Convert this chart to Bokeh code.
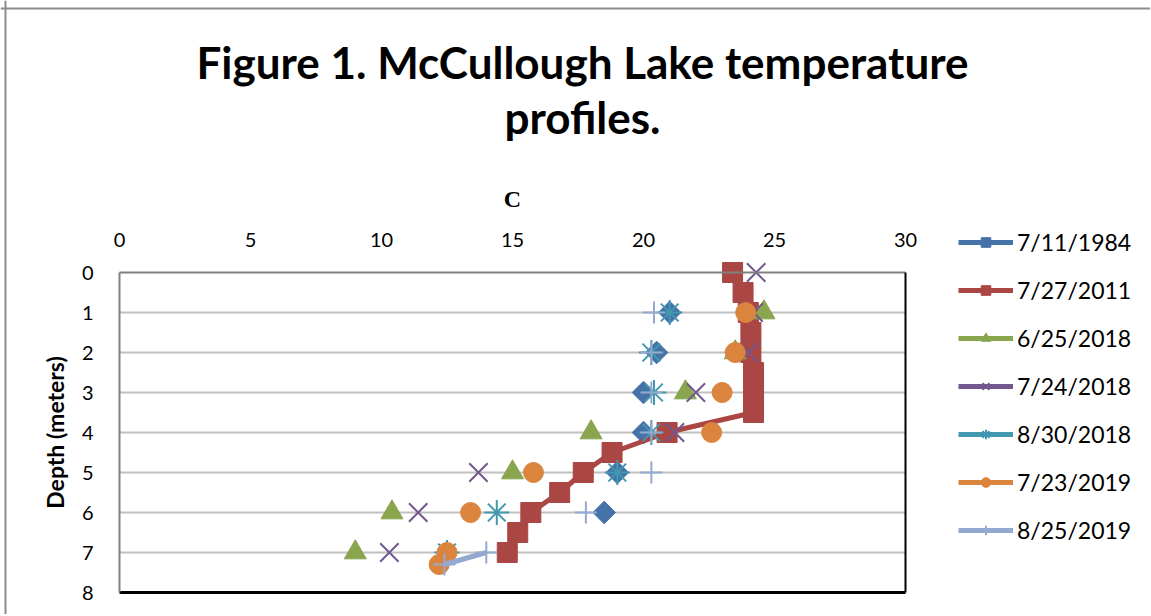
import math
from bokeh.plotting import figure
from bokeh.models import (Range1d, FixedTicker, Legend, LegendItem, Label, Span,
                          LinearAxis)
from bokeh.embed import file_html
from bokeh.resources import INLINE

nan = float("nan")

# Depth rows (meters); blank cells are NaN, which breaks the lines
depth = [0, 0.5, 1, 1.5, 2, 2.5, 3, 3.5, 4, 4.5, 5, 5.5, 6, 6.5, 7, 7.3]

series_names = ["7/11/1984", "7/27/2011", "6/25/2018", "7/24/2018",
                "8/30/2018", "7/23/2019", "8/25/2019"]

t_1984 = [nan, nan, 21.0, nan, 20.5, nan, 20.0, nan, 20.0, nan, 19.0, nan, 18.5, nan, nan, nan]
t_2011 = [23.4, 23.8, 24.0, 24.1, 24.1, 24.2, 24.2, 24.2, 20.9, 18.8, 17.7, 16.8, 15.7, 15.2, 14.8, nan]
t_0625_18 = [nan, nan, 24.6, nan, 23.5, nan, 21.6, nan, 18.0, nan, 15.0, nan, 10.4, nan, 9.0, nan]
t_0724_18 = [24.3, nan, 24.2, nan, 24.0, nan, 22.0, nan, 21.2, nan, 13.7, nan, 11.4, nan, 10.3, nan]
t_0830_18 = [nan, nan, 21.0, nan, 20.3, nan, 20.4, nan, 20.3, nan, 19.0, nan, 14.4, nan, 12.5, nan]
t_0723_19 = [nan, nan, 23.9, nan, 23.5, nan, 23.0, nan, 22.6, nan, 15.8, nan, 13.4, nan, 12.5, 12.2]
t_0825_19 = [nan, nan, 20.4, nan, 20.3, nan, 20.3, nan, 20.3, nan, 20.3, nan, 17.8, nan, 14.0, 12.4]

x_ticks = [0, 5, 10, 15, 20, 25, 30]
y_ticks = [0, 1, 2, 3, 4, 5, 6, 7, 8]

all_series = [t_1984, t_2011, t_0625_18, t_0724_18, t_0830_18, t_0723_19, t_0825_19]
colors = ["#4572A7", "#AA4643", "#89A54E", "#71588F", "#4198AF", "#DB843D", "#93A9CF"]
markers = ["square", "square", "triangle", "x", "asterisk", "circle", "cross"]
angles = [math.pi / 4, 0, 0, 0, 0, 0, 0]
sizes = [16, 20, 22, 26, 25, 20, 22]

# ---- layout: the frame covers the whole canvas; the plot area (0..30 C,
# 0..8 m) sits at pixels x 119..905, y 272..592
W, H = 1150, 614
PX_L, PX_R, PX_T, PX_B = 119, 905, 272, 592
XMIN, XMAX = x_ticks[0], x_ticks[-1]
YMIN, YMAX = y_ticks[0], y_ticks[-1]
sx = (PX_R - PX_L) / (XMAX - XMIN)
sy = (PX_B - PX_T) / (YMAX - YMIN)
x_range = Range1d(XMIN - PX_L / sx, XMAX + (W - PX_R) / sx)
y_range = Range1d(YMAX + (H - PX_B) / sy, YMIN - PX_T / sy)

p = figure(width=W, height=H, output_backend="svg", toolbar_location=None,
           x_range=x_range, y_range=y_range,
           x_axis_location="above",
           min_border=0, min_border_left=0, min_border_right=0,
           min_border_top=0, min_border_bottom=0)

p.background_fill_color = "white"
p.border_fill_color = "white"
p.outline_line_color = None
p.xgrid.grid_line_color = None
p.ygrid.grid_line_color = None

# horizontal gridlines inside the plot area
grid_depths = y_ticks[1:-1]
p.segment(x0=[XMIN] * len(grid_depths), y0=grid_depths,
          x1=[XMAX] * len(grid_depths), y1=grid_depths,
          line_color="#C0C0C0", line_width=2)

xa = p.xaxis[0]
xa.fixed_location = YMIN
xa.bounds = (XMIN, XMAX)
xa.ticker = FixedTicker(ticks=x_ticks)
xa.axis_line_color = "#808080"
xa.axis_line_width = 2
xa.major_tick_line_color = None
xa.minor_tick_line_color = None
xa.major_tick_out = 0
xa.major_label_standoff = 26
xa.major_label_text_font = "Lato"
xa.major_label_text_font_size = "20px"
xa.major_label_text_color = "black"
xa.axis_label = "C"
xa.axis_label_text_font = "Liberation Serif"
xa.axis_label_text_font_style = "bold"
xa.axis_label_text_font_size = "24px"
xa.axis_label_text_color = "black"
xa.axis_label_standoff = 18

ya = p.yaxis[0]
ya.fixed_location = XMIN
ya.bounds = (YMIN, YMAX)
ya.ticker = FixedTicker(ticks=y_ticks)
ya.axis_line_color = "#808080"
ya.axis_line_width = 2
ya.major_tick_line_color = None
ya.minor_tick_line_color = None
ya.major_tick_out = 0
ya.major_label_standoff = 26
ya.major_label_text_font = "Lato"
ya.major_label_text_font_size = "20px"
ya.major_label_text_color = "black"
ya.axis_label = "Depth (meters)"
ya.axis_label_text_font = "Lato"
ya.axis_label_text_font_style = "bold"
ya.axis_label_text_font_size = "23px"
ya.axis_label_text_color = "black"
ya.axis_label_standoff = 10

# black right and bottom edges of the plot area
ra = LinearAxis(fixed_location=XMAX, bounds=(YMIN, YMAX), ticker=FixedTicker(ticks=[]),
                axis_line_color="black", axis_line_width=2,
                major_tick_line_color=None, minor_tick_line_color=None,
                major_label_text_font_size="0px")
ba = LinearAxis(fixed_location=YMAX, bounds=(XMIN, XMAX), ticker=FixedTicker(ticks=[]),
                axis_line_color="black", axis_line_width=3,
                major_tick_line_color=None, minor_tick_line_color=None,
                major_label_text_font_size="0px")
p.add_layout(ra, "right")
p.add_layout(ba, "below")

# outer chart border (left and top)
p.add_layout(Span(location=5, location_units="screen", dimension="height",
                  line_color="#8C8C8C", line_width=2))
p.add_layout(Span(location=H - 8, location_units="screen", dimension="width",
                  line_color="#8C8C8C", line_width=2))

items = []
for name, temps, col, mk, sz, ang in zip(series_names, all_series, colors, markers, sizes, angles):
    ln = p.line(temps, depth, line_color=col, line_width=5)
    if mk in ("x", "asterisk", "cross"):
        sc = p.scatter(temps, depth, marker=mk, size=sz, line_color=col, line_width=2)
    else:
        sc = p.scatter(temps, depth, marker=mk, size=sz, angle=ang,
                       fill_color=col, line_color=col)
    items.append(LegendItem(label=name, renderers=[ln, sc]))

legend = Legend(items=items, location=(958, H - 544),
                glyph_width=55, glyph_height=24, label_height=24,
                spacing=20, padding=0, margin=0, label_standoff=4,
                label_text_font="Lato", label_text_font_size="23px",
                label_text_color="black",
                border_line_color=None, background_fill_alpha=0)
p.add_layout(legend, "center")

p.add_layout(Label(x=582, y=H - 61, x_units="screen", y_units="screen",
                   text="Figure 1. McCullough Lake temperature",
                   text_align="center", text_baseline="alphabetic",
                   text_font="Lato", text_font_style="bold",
                   text_font_size="44px", text_color="black"))
p.add_layout(Label(x=582, y=H - 116, x_units="screen", y_units="screen",
                   text="profiles.",
                   text_align="center", text_baseline="alphabetic",
                   text_font="Lato", text_font_style="bold",
                   text_font_size="44px", text_color="black"))

open("out.html", "w").write(file_html(p, INLINE))
